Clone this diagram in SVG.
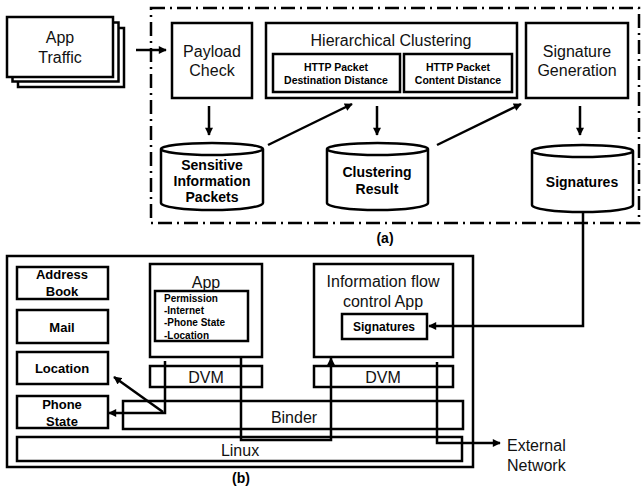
<svg xmlns="http://www.w3.org/2000/svg" width="642" height="489" viewBox="0 0 642 489">
<style>
.b{fill:#fff;stroke:#000;stroke-width:2.5}
.t{font-family:"Liberation Sans",Arial,sans-serif;font-size:16px;fill:#111;text-anchor:middle}
.bd{font-family:"Liberation Sans",Arial,sans-serif;font-weight:bold;fill:#000;text-anchor:middle}
.s{text-anchor:start}
.c{fill:none;stroke:#000;stroke-width:2.5}
</style>
<defs>
<marker id="ah" viewBox="0 0 10 10" refX="9" refY="5" markerWidth="9" markerHeight="8" orient="auto" markerUnits="userSpaceOnUse">
<path d="M0,0 L10,5 L0,10 z" fill="#000"/>
</marker>
</defs>
<rect width="642" height="489" fill="#fff"/>
<rect x="151" y="8" width="488" height="215" fill="none" stroke="#000" stroke-width="2.5" stroke-dasharray="14 5 2 5"/>
<g id="app-traffic">
<rect class="b" x="18" y="28" width="106" height="59"/>
<rect class="b" x="12.5" y="22.5" width="106" height="59"/>
<rect class="b" x="7" y="17" width="106" height="60"/>
<text class="t" x="60" y="43">App</text>
<text class="t" x="60" y="63">Traffic</text>
</g>
<g id="payload-check">
<rect class="b" x="172" y="23" width="80" height="75"/>
<text class="t" x="212" y="57" font-size="17">Payload</text>
<text class="t" x="212" y="76" font-size="17">Check</text>
</g>
<g id="hierarchical-clustering">
<rect class="b" x="266" y="23" width="251" height="75"/>
<text class="t" x="391" y="46">Hierarchical Clustering</text>
<rect class="b" x="273" y="54" width="127" height="38"/>
<text class="bd" x="336" y="71" font-size="10.5">HTTP Packet</text>
<text class="bd" x="336" y="84" font-size="10.5">Destination Distance</text>
<rect class="b" x="404" y="54" width="108" height="38"/>
<text class="bd" x="458" y="71" font-size="10.5">HTTP Packet</text>
<text class="bd" x="458" y="84" font-size="10.5">Content Distance</text>
</g>
<g id="signature-generation">
<rect class="b" x="526" y="23" width="102" height="75"/>
<text class="t" x="577" y="57" font-size="17">Signature</text>
<text class="t" x="577" y="76" font-size="17">Generation</text>
</g>
<g id="sensitive-packets">
<path class="b" d="M161,149 L161,203 A51,7 0 0 0 263,203 L263,149 A51,6 0 0 0 161,149 A51,6 0 0 0 263,149"/>
<text class="bd" x="212" y="170" font-size="14">Sensitive</text>
<text class="bd" x="212" y="186" font-size="14">Information</text>
<text class="bd" x="212" y="202" font-size="14">Packets</text>
</g>
<g id="clustering-result">
<path class="b" d="M327,149 L327,203 A50.5,7 0 0 0 428,203 L428,149 A50.5,6 0 0 0 327,149 A50.5,6 0 0 0 428,149"/>
<text class="bd" x="377" y="177" font-size="14">Clustering</text>
<text class="bd" x="377" y="194" font-size="14">Result</text>
</g>
<g id="signatures-db">
<path class="b" d="M532,151 L532,205 A50.5,7 0 0 0 633,205 L633,151 A50.5,6 0 0 0 532,151 A50.5,6 0 0 0 633,151"/>
<text class="bd" x="582" y="187" font-size="14">Signatures</text>
</g>
<text class="bd" x="385" y="243" font-size="14">(a)</text>
<g id="device">
<rect class="b" x="7" y="256" width="466" height="211"/>
</g>
<g id="address-book">
<rect class="b" x="17" y="267" width="91" height="32"/>
<text class="bd" x="62" y="279" font-size="13">Address</text>
<text class="bd" x="62" y="296" font-size="13">Book</text>
</g>
<g id="mail">
<rect class="b" x="17" y="310" width="91" height="33"/>
<text class="bd" x="62" y="332" font-size="13">Mail</text>
</g>
<g id="location">
<rect class="b" x="17" y="352" width="91" height="32"/>
<text class="bd" x="62" y="373" font-size="13">Location</text>
</g>
<g id="phone-state">
<rect class="b" x="17" y="396" width="91" height="32"/>
<text class="bd" x="62" y="409" font-size="13">Phone</text>
<text class="bd" x="62" y="426" font-size="13">State</text>
</g>
<g id="app">
<rect class="b" x="150" y="264" width="112" height="93"/>
<text class="t" x="206" y="288" font-size="17">App</text>
<rect class="b" x="155" y="291" width="93" height="50"/>
<text class="bd s" x="164" y="302" font-size="10">Permission</text>
<text class="bd s" x="164" y="314" font-size="10">-Internet</text>
<text class="bd s" x="164" y="326" font-size="10">-Phone State</text>
<text class="bd s" x="164" y="339" font-size="10">-Location</text>
</g>
<g id="dvm-left">
<rect class="b" x="150" y="366" width="112" height="21"/>
<text class="t" x="206" y="383">DVM</text>
</g>
<g id="ifc-app">
<rect class="b" x="314" y="264" width="139" height="93"/>
<text class="t" x="383" y="287">Information flow</text>
<text class="t" x="383" y="307">control App</text>
<rect class="b" x="342" y="314" width="85" height="25"/>
<text class="bd" x="384" y="331" font-size="12">Signatures</text>
</g>
<g id="dvm-right">
<rect class="b" x="314" y="366" width="139" height="21"/>
<text class="t" x="383" y="383">DVM</text>
</g>
<g id="binder">
<rect class="b" x="123" y="401" width="340" height="28"/>
<text class="t" x="294" y="423" font-size="17">Binder</text>
</g>
<g id="linux">
<rect class="b" x="17" y="437" width="445" height="24"/>
<text class="t" x="240" y="456">Linux</text>
</g>
<text class="bd" x="241" y="483" font-size="14">(b)</text>
<g id="external-network">
<text class="t s" x="507" y="451">External</text>
<text class="t s" x="507" y="471">Network</text>
</g>
<g id="connectors">
<path class="c" d="M136,50 H166" marker-end="url(#ah)"/>
<path class="c" d="M209,106 V135" marker-end="url(#ah)"/>
<path class="c" d="M377,106 V135" marker-end="url(#ah)"/>
<path class="c" d="M580,106 V135" marker-end="url(#ah)"/>
<path class="c" d="M268,145 L352,104" marker-end="url(#ah)"/>
<path class="c" d="M437,145 L521,104" marker-end="url(#ah)"/>
<path class="c" d="M583,212 V326 H429" marker-end="url(#ah)"/>
<path class="c" d="M165,361 V413 H109" marker-end="url(#ah)"/>
<path class="c" d="M163,412 L114,377" marker-end="url(#ah)"/>
<path class="c" d="M241,358 V440 H331 V358" marker-end="url(#ah)"/>
<path class="c" d="M437,362 V443 H500" marker-end="url(#ah)"/>
</g>
</svg>
